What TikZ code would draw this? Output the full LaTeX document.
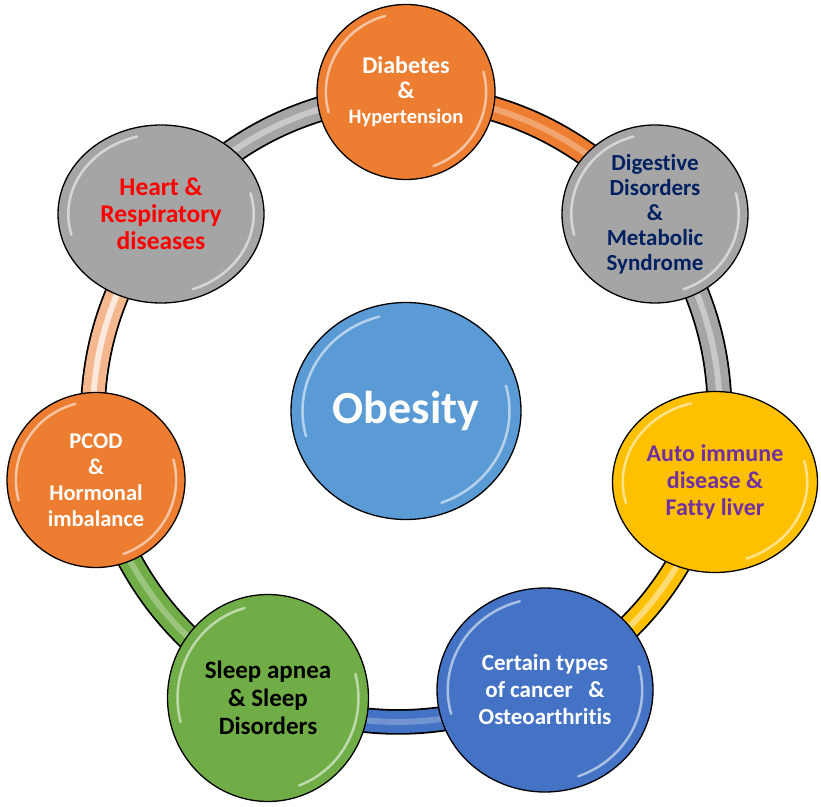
\documentclass[tikz,border=0pt]{standalone}
\usepackage{fontspec}
\setmainfont{Carlito}[Ligatures=NoCommon]
\usetikzlibrary{shapes.geometric}
\usetikzlibrary{backgrounds}
\usetikzlibrary{calc}

\definecolor{orangeA}{HTML}{ED7D31}
\definecolor{grayA}{HTML}{A5A5A5}
\definecolor{goldA}{HTML}{FFC000}
\definecolor{blueA}{HTML}{4472C4}
\definecolor{greenA}{HTML}{70AD47}
\definecolor{skyA}{HTML}{5B9BD5}
\definecolor{navyT}{HTML}{002060}
\definecolor{purpleT}{HTML}{7030A0}

\tikzset{
  gloss/.style={path picture={
    \path let \p1=(path picture bounding box.north east),
              \p2=(path picture bounding box.center),
              \n1={0.9*(\x1-\x2)}, \n2={0.9*(\y1-\y2)} in
      [draw=white,opacity=.55,line width=2.5pt,line cap=round]
      (\p2) ++(105:\n1 and \n2) arc[start angle=105,end angle=195,x radius=\n1,y radius=\n2]
      (\p2) ++(-70:\n1 and \n2) arc[start angle=-70,end angle=15,x radius=\n1,y radius=\n2];
  }},
  ball/.style={ellipse,draw=black,line width=1.3pt,inner sep=0pt,align=center,gloss},
  band/.style={line width=1.8pt,double distance=22pt},
}

\begin{document}
\begin{tikzpicture}[x=1pt,y=1pt,line join=round]
\useasboundingbox (0,0) rectangle (821,806);
% centre
\node[ball,fill=skyA,text=white,minimum width=230,minimum height=217,
      font=\bfseries\fontsize{46}{52}\selectfont] (obes) at (406,395) {Obesity};
% the seven around it, clockwise from the top
\node[ball,fill=orangeA,text=white,minimum width=178,minimum height=175,
      font=\bfseries\fontsize{24}{25}\selectfont] (diab) at (406,714)
      {Diabetes\\\&\\{\fontsize{20.5}{25}\selectfont Hypertension}};
\node[ball,fill=grayA,text=navyT,minimum width=186,minimum height=178,
      font=\bfseries\fontsize{23}{25}\selectfont] (dige) at (655,592)
      {Digestive\\Disorders\\\&\\Metabolic\\Syndrome};
\node[ball,fill=goldA,text=purpleT,minimum width=205,minimum height=181,
      font=\bfseries\fontsize{24}{27}\selectfont] (auto) at (715,324)
      {Auto immune\\disease \&\\Fatty liver};
\node[ball,fill=blueA,text=white,minimum width=216,minimum height=204,
      font=\bfseries\fontsize{23}{27}\selectfont] (canc) at (545,116)
      {Certain types\\of cancer\ \ \ \&\\Osteoarthritis};
\node[ball,fill=greenA,text=black,minimum width=201,minimum height=207,
      font=\bfseries\fontsize{25}{28}\selectfont] (slee) at (268,108)
      {Sleep apnea\\\& Sleep\\Disorders};
\node[ball,fill=orangeA,text=white,minimum width=178,minimum height=175,
      font=\bfseries\fontsize{22.5}{26}\selectfont] (pcod) at (96,326)
      {PCOD\\\&\\Hormonal\\imbalance};
\node[ball,fill=grayA,text=red,minimum width=206,minimum height=178,
      font=\bfseries\fontsize{25.5}{27}\selectfont] (hear) at (161,592)
      {Heart \&\\Respiratory\\diseases};
% ring behind the circles
\begin{scope}[on background layer]
\foreach \a/\b/\c/\o in {diab/dige/orangeA/.3, dige/auto/grayA/.4, auto/canc/goldA/.45,
    canc/slee/blueA/.25, slee/pcod/greenA/.3, pcod/hear/orangeA!55/.7, hear/diab/grayA/.4}{
  \draw[band,double=\c] (\a.center) to[bend left=20] (\b.center);
  \draw[white,opacity=\o,line width=6pt] (\a.center) to[bend left=20] (\b.center);
}
\end{scope}
\end{tikzpicture}
\end{document}
